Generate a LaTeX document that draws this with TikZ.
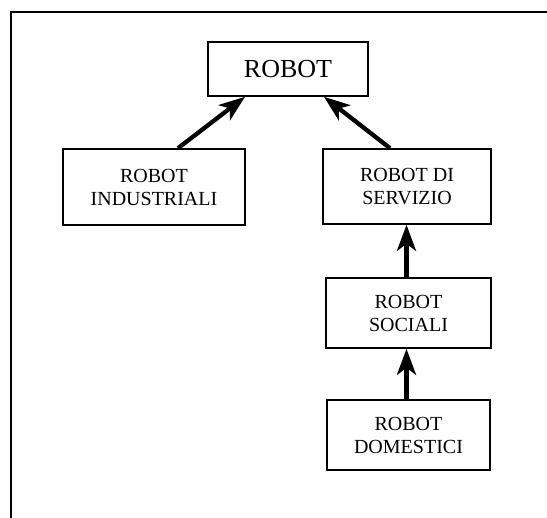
\documentclass[tikz,border=0pt]{standalone}
\usepackage{fontspec}
\setmainfont{Liberation Serif}
\usetikzlibrary{arrows.meta}
\begin{document}
\begin{tikzpicture}[
		x=1pt, y=-1pt,
		every node/.style={draw, rectangle, line width=1.6pt, align=center, inner sep=0pt, font=\fontsize{20}{23}\selectfont},
		arrow/.style={-{Stealth[length=26pt, width=19pt, inset=7pt]}, line width=4.3pt},
	]
	\useasboundingbox (0,0) rectangle (547,518);
	\draw[line width=2pt] (11,518) -- (11,12.5) -- (547,12.5);
	\node[minimum width=160pt, minimum height=54pt, font=\fontsize{26}{30}\selectfont] (robot) at (288, 69) {ROBOT};
	\node[minimum width=182pt, minimum height=76pt] (ind) at (154, 187) {ROBOT\\INDUSTRIALI};
	\node[minimum width=168pt, minimum height=75pt] (serv) at (407, 186.5) {ROBOT DI\\SERVIZIO};
	\node[minimum width=165pt, minimum height=70pt] (soc) at (408.5, 313) {ROBOT\\SOCIALI};
	\node[minimum width=163pt, minimum height=70pt] (dom) at (408.5, 435) {ROBOT\\DOMESTICI};
	\draw[arrow] ([xshift=24pt]ind.north) -- ([xshift=-43pt]robot.south);
	\draw[arrow] ([xshift=-17pt]serv.north) -- ([xshift=36pt]robot.south);
	\draw[arrow] ([xshift=-2pt]soc.north) -- ([xshift=-0.5pt]serv.south);
	\draw[arrow] ([xshift=-2pt]dom.north) -- ([xshift=-2pt]soc.south);
\end{tikzpicture}
\end{document}
